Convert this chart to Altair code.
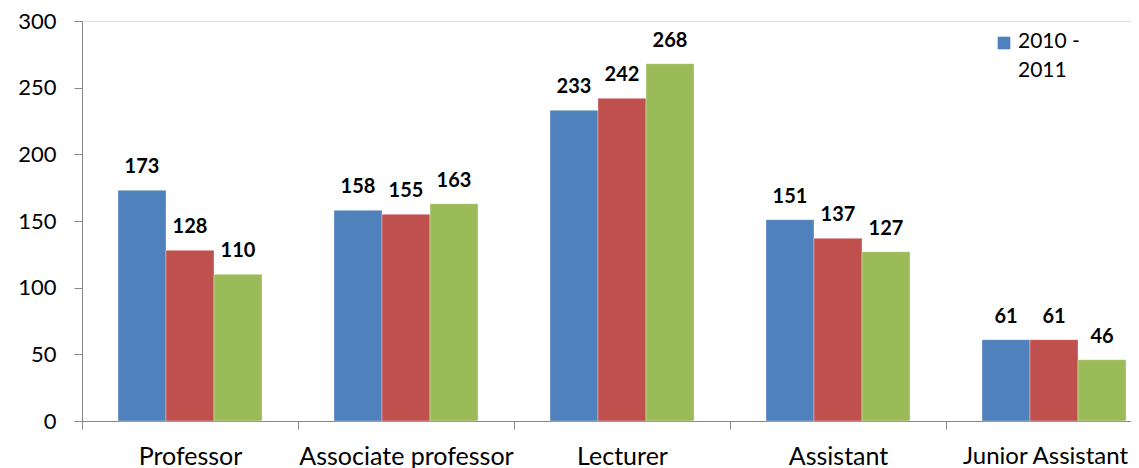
import altair as alt
import pandas as pd

categories = ["Professor", "Associate professor", "Lecturer", "Assistant", "Junior Assistant"]
series = ["2010 - 2011", "2011 - 2012", "2012 - 2013"]
values_2010 = [173, 158, 233, 151, 61]
values_2011 = [128, 155, 242, 137, 61]
values_2012 = [110, 163, 268, 127, 46]
colors = ["#4F81BD", "#C0504D", "#9BBB59"]
y_ticks = [0, 50, 100, 150, 200, 250, 300]

rows = []
for s, vals in zip(series, [values_2010, values_2011, values_2012]):
    for c, v in zip(categories, vals):
        rows.append({"category": c, "series": s, "value": v})
df = pd.DataFrame(rows)

legend_df = pd.DataFrame({"series": [series[0]], "label": [series[0].replace("- ", "-\n")]})

FONT = "Lato"
color_scale = alt.Scale(domain=series, range=colors)
last_test = "datum.value == '%s'" % categories[-1]

x_enc = alt.X(
    "category:N",
    sort=categories,
    scale=alt.Scale(paddingInner=1 / 3, paddingOuter=1 / 6, range=[0, 1080]),
    axis=alt.Axis(
        title=None,
        labelAngle=0,
        bandPosition=0,
        tickOffset=-36,
        labelOffset={"condition": {"test": last_test, "value": 27}, "value": 36},
        labelFont=FONT,
        labelFontSize={"condition": {"test": last_test, "value": 24}, "value": 25},
        labelColor="#000000",
        labelPadding=15,
        domainColor="#868686",
        tickColor="#868686",
        tickSize=8,
        labelLimit=400,
    ),
)
y_enc = alt.Y(
    "value:Q",
    scale=alt.Scale(domain=[0, 300], nice=False),
    axis=alt.Axis(
        title=None,
        values=y_ticks,
        grid=False,
        labelFont=FONT,
        labelFontSize=22,
        labelColor="#000000",
        labelPadding=18,
        domainColor="#868686",
        tickColor="#868686",
        tickSize=8,
    ),
)

base = alt.Chart(df).encode(
    x=x_enc,
    xOffset=alt.XOffset("series:N", sort=series),
    y=y_enc,
)

bars = base.mark_bar(stroke="#ffffff", strokeOpacity=0.35, strokeWidth=1).encode(
    color=alt.Color("series:N", scale=color_scale, legend=None)
)

labels = base.mark_text(
    baseline="alphabetic", dy=-17, font=FONT, fontSize=20, fontWeight="bold", color="#000000"
).encode(text=alt.Text("value:Q"))

legend_sym = alt.Chart(legend_df).mark_square(size=160, opacity=1).encode(
    x=alt.value(922),
    y=alt.value(22),
    color=alt.Color("series:N", scale=color_scale, legend=None),
)
legend_txt = alt.Chart(legend_df).mark_text(
    align="left", baseline="top", lineBreak="\n", lineHeight=29, font=FONT, fontSize=21, color="#000000"
).encode(
    x=alt.value(936),
    y=alt.value(10),
    text="label:N",
)

chart = alt.layer(bars, labels, legend_sym, legend_txt).properties(
    width=1049,
    height=400,
    autosize=alt.AutoSizeParams(type="none"),
    padding={"left": 74, "top": 13, "right": 0, "bottom": 47},
).configure_view(stroke=None).configure(background="#ffffff")

chart.save("out.html", embed_options={"renderer": "svg", "actions": False})
